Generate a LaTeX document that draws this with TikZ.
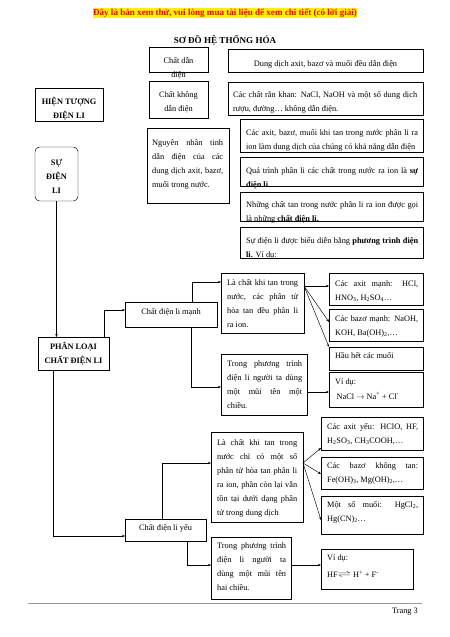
\documentclass[tikz,border=0pt]{standalone}
\usepackage{graphicx}
\usepackage{fontspec}
\setmainfont{Liberation Serif}
\usetikzlibrary{arrows.meta,calc,fit}
\newlength\pxu
\setlength\pxu{1.3222pt}
\newcommand\jl[2]{\makebox[#1\pxu][s]{#2}}
\newcommand\bxx[5]{\node[bx, fit={(#2,#3) (#4,#5)}] (#1) {};}
\begin{document}
\begin{tikzpicture}[x=1.3222pt,y=-1.3222pt,
  bx/.style={draw, line width=0.6pt, inner sep=0pt, outer sep=0pt},
  txt/.style={inner sep=0pt, anchor=base west, align=left, font=\fontsize{11}{18.5}\selectfont},
  txtc/.style={txt, anchor=base, align=center},
  txtb/.style={txtc, font=\fontsize{11}{18.5}\selectfont\bfseries},
  arr/.style={-{Stealth[length=4pt,width=3.2pt]}, line width=0.6pt}]
\useasboundingbox (0,0) rectangle (450,637);
% header
\node[fill=yellow, text=red, inner sep=0.6pt, font=\fontsize{12}{13}\selectfont\bfseries] (hdr) at (225,13) {Đây là bản xem thử, vui lòng mua tài liệu để xem chi tiết (có lời giải)};
\node[inner sep=0pt, anchor=base, font=\fontsize{12}{14}\selectfont\bfseries] (title) at (225,43) {SƠ ĐỒ HỆ THỐNG HÓA};
% boxes
\bxx{chatdan}{149}{47}{208}{72}
\bxx{dungdich}{228}{49}{423}{72}
\bxx{khongdan}{149}{81}{208}{118}
\bxx{rankhan}{228}{82}{423}{115}
\bxx{hientuong}{35}{88}{103}{121}
\bxx{nguyennhan}{147}{128}{229}{203}
\bxx{axitbazo}{240}{119}{423}{152}
\bxx{quatrinh}{240}{157}{423}{186}
\bxx{nhungchat}{240}{192}{423}{221}
\bxx{bieudien}{240}{227}{423}{258}
\node[bx, rounded corners=6pt, fit={(35,147) (78,201)}] (sudienli) {};
\bxx{phanloai}{38}{337}{109}{370}
\bxx{manh}{125}{302}{217}{327}
\bxx{lachatmanh}{221}{273}{304}{333}
\bxx{axitmanh}{329}{273}{423}{305}
\bxx{bazomanh}{329}{309}{423}{341}
\bxx{hauhet}{329}{347}{423}{370}
\bxx{ptmanh}{221}{354}{307}{415}
\bxx{vdnacl}{329}{372}{423}{407}
\bxx{axityeu}{321}{417}{423}{450}
\bxx{bazoyeu}{321}{457}{423}{489}
\bxx{muoiyeu}{321}{496}{423}{534}
\bxx{lachatyeu}{211}{432}{303}{522}
\bxx{yeu}{125}{519}{206}{541}
\bxx{ptyeu}{211}{537}{291}{599}
\bxx{vdhf}{321}{549}{413}{589}
% texts (multi-line nodes are placed by the baseline of their last line)
\node[txtc] (t-chatdan) at (178.5,77) {Chất dẫn\\điện};
\node[txtc] (t-dungdich) at (325.5,66) {Dung dịch axit, bazơ và muối đều dẫn điện};
\node[txtc] (t-khongdan) at (178.5,111) {Chất không\\dẫn điện};
\node[txt] (t-rankhan) at (233,111) {\jl{184}{Các chất rắn khan: NaCl, NaOH và một số dung dịch}\\rượu, đường… không dẫn điện.};
\node[txtb] (t-hientuong) at (69,118) {HIỆN TƯỢNG\\ĐIỆN LI};
\node[txt] (t-nguyennhan) at (152,187) {\jl{71}{Nguyên nhân tinh}\\\jl{71}{dẫn điện của các}\\\jl{71}{dung dịch axit, bazơ,}\\muối trong nước.};
\node[txt] (t-axitbazo) at (246,149) {\jl{172}{Các axit, bazơ, muối khi tan trong nước phân li ra}\\ion làm dung dịch của chúng có khả năng dẫn điện};
\node[txt] (t-quatrinh) at (246,187) {\jl{172}{Quá trình phân li các chất trong nước ra ion là \textbf{sự}}\\\textbf{điện li.}};
\node[txt] (t-nhungchat) at (246,221) {\jl{172}{Những chất tan trong nước phân li ra ion được gọi}\\là những \textbf{chất điện li.}};
\node[txt] (t-bieudien) at (246,257) {\jl{172}{Sự điện li được biểu diễn bằng \textbf{phương trình điện}}\\\textbf{li.} Ví dụ:};
\node[txtb] (t-sudienli) at (56.5,193) {SỰ\\ĐIỆN\\LI};
\node[txtb] (t-phanloai) at (73.5,363) {PHÂN LOẠI\\CHẤT ĐIỆN LI};
\node[txtc] (t-manh) at (171,314) {Chất điện li mạnh};
\node[txt] (t-lachatmanh) at (227,327) {\jl{71}{Là chất khi tan trong}\\\jl{71}{nước, các phân tử}\\\jl{71}{hòa tan đều phân li}\\ra ion.};
\node[txt] (t-axitmanh) at (335,300) {\jl{83}{Các axit mạnh: HCl,}\\HNO\textsubscript{3}, H\textsubscript{2}SO\textsubscript{4}…};
\node[txt] (t-bazomanh) at (335,335) {\jl{83}{Các bazơ mạnh: NaOH,}\\KOH, Ba(OH)\textsubscript{2},…};
\node[txt] (t-hauhet) at (335,358) {Hầu hết các muối};
\node[txt] (t-ptmanh) at (227,408) {\jl{75}{Trong phương trình}\\\jl{75}{điện li người ta dùng}\\\jl{75}{một mũi tên một}\\chiều.};
\node[txt] (t-vdnacl) at (335,399) {Ví dụ:\\[1pt]\hspace*{2pt}NaCl $\rightarrow$ Na\textsuperscript{+} + Cl\textsuperscript{-}};
\node[txt] (t-axityeu) at (327,443) {\jl{91}{Các axit yếu: HClO, HF,}\\H\textsubscript{2}SO\textsubscript{3}, CH\textsubscript{3}COOH,…};
\node[txt] (t-bazoyeu) at (327,482) {\jl{91}{Các bazơ không tan:}\\Fe(OH)\textsubscript{3}, Mg(OH)\textsubscript{2},…};
\node[txt] (t-muoiyeu) at (327,521) {\jl{91}{Một số muối: HgCl\textsubscript{2},}\\Hg(CN)\textsubscript{2}…};
\node[txt] (t-lachatyeu) at (217,515) {\jl{80}{Là chất khi tan trong}\\\jl{80}{nước chỉ có một số}\\\jl{80}{phân tử hòa tan phân li}\\\jl{80}{ra ion, phần còn lại vẫn}\\\jl{80}{tồn tại dưới dạng phân}\\tử trong dung dịch};
\node[txtc] (t-yeu) at (165.5,530) {Chất điện li yếu};
\node[txt] (t-ptyeu) at (217,590) {\jl{69}{Trong phương trình}\\\jl{69}{điện li người ta}\\\jl{69}{dùng một mũi tên}\\hai chiều.};
\node[txt] (t-vdhf) at (327,577) {Ví dụ:\\[3pt]HF\scalebox{1.6}[1]{$\rightleftharpoons$} H\textsuperscript{+} + F\textsuperscript{-}};
% connectors
\draw[arr] (sudienli.south) -- (sudienli.south |- phanloai.north);
\draw[arr] ($(phanloai.north west)+(66,0)$) |- ($(manh.west)+(0,-4.5)$);
\draw[arr] ($(manh.north west)+(67,0)$) |- ($(lachatmanh.west)+(0,-21)$);
\draw[arr] ($(manh.south west)+(66,0)$) |- ($(ptmanh.west)+(0,2.5)$);
\coordinate (fm) at ($(lachatmanh.east)+(0,-17)$);
\draw[arr] (fm) -- ($(axitmanh.west)+(0,-3)$);
\draw[arr] (fm) -- ($(bazomanh.west)+(0,-3)$);
\draw[arr] (fm) -- (hauhet.north west);
\coordinate (om) at ($(ptmanh.east)+(0,7.5)$);
\draw[arr] (om) -- (om -| vdnacl.west);
\draw[arr] ($(phanloai.south west)+(15,0)$) |- ($(yeu.west)+(0,6)$);
\draw[arr] ($(yeu.north west)+(37,0)$) |- ($(lachatyeu.west)+(0,-14)$);
\draw[arr] ($(yeu.south west)+(62,0)$) |- ($(ptyeu.west)+(0,-3)$);
\coordinate (fy) at ($(lachatyeu.east)+(0,-14)$);
\draw[arr] (fy) -- ($(axityeu.west)+(0,14.5)$);
\draw[arr] (fy) -- ($(bazoyeu.west)+(0,1)$);
\draw[arr] (fy) -- ($(muoiyeu.west)+(0,5)$);
\coordinate (oy) at ($(ptyeu.east)+(0,-3)$);
\draw[arr] (oy) -- (oy -| vdhf.west);
% footer
\draw[black!40, line width=1pt] (28,603) -- (422,603);
\node[txt, anchor=base east] (trang) at (418,613) {Trang 3};
\end{tikzpicture}
\end{document}
